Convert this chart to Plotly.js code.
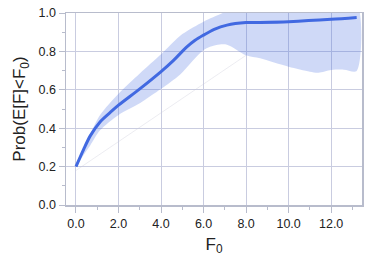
<!DOCTYPE html>
<html>
<head>
<meta charset="utf-8">
<script src="https://cdn.plot.ly/plotly-3.0.1.min.js"></script>
<style>html,body{margin:0;padding:0;background:#fff}#chart{width:382px;height:265px}</style>
</head>
<body>
<div id="chart"></div>
<script>
const meanX = [0, 0.36, 0.67, 1.14, 1.69, 2.0, 3.0, 4.0, 4.6, 5.2, 5.6, 6.0, 6.5, 7.1, 8.0, 8.66, 10.0, 12.0, 13.2];
const meanY = [0.20, 0.29, 0.36, 0.434, 0.49, 0.52, 0.605, 0.695, 0.755, 0.822, 0.858, 0.885, 0.915, 0.937, 0.95, 0.951, 0.955, 0.967, 0.977];
const upperX = [0, 0.36, 0.67, 1.14, 2.0, 3.0, 4.0, 5.0, 6.0, 6.9, 8.0, 10.0, 12.0, 13.2];
const upperY = [0.20, 0.30, 0.37, 0.47, 0.58, 0.685, 0.785, 0.89, 0.955, 1.0, 1.05, 1.05, 1.05, 1.05];
const lowerX = [0, 0.36, 0.67, 1.14, 2.0, 3.0, 4.0, 4.9, 6.0, 6.6, 7.1, 8.0, 8.66, 10.0, 11.0, 11.4, 12.0, 12.6, 13.2];
const lowerY = [0.20, 0.26, 0.31, 0.39, 0.469, 0.53, 0.605, 0.68, 0.807, 0.833, 0.835, 0.78, 0.764, 0.72, 0.694, 0.689, 0.703, 0.705, 0.698];
const refX = [0, 8.0];
const refY = [0.18, 0.78];

const bandX = upperX.concat(lowerX.slice().reverse());
const bandY = upperY.concat(lowerY.slice().reverse());

const FONT = 'Liberation Sans, Arial, Helvetica, sans-serif';

const traces = [
  {x: refX, y: refY, mode: 'lines', line: {color: 'rgba(200,200,215,0.5)', width: 0.7}, hoverinfo: 'skip'},
  {x: bandX, y: bandY, mode: 'lines', fill: 'toself', fillcolor: 'rgba(65,105,225,0.25)', line: {width: 0, shape: 'spline', smoothing: 0.8}, hoverinfo: 'skip'},
  {x: meanX, y: meanY, mode: 'lines', line: {color: '#4169e1', width: 3, shape: 'spline', smoothing: 0.8}}
];

const axisCommon = {
  showline: true, mirror: true, linecolor: '#b8bccc', linewidth: 1.5,
  gridcolor: '#c9cce0', gridwidth: 1, zeroline: false,
  ticks: 'outside', ticklen: 6, tickcolor: '#b8bccc', tickwidth: 1,
  tickfont: {family: FONT, size: 12.5, color: '#222'},
  tickformat: '.1f'
};

const layout = {
  width: 382, height: 265,
  margin: {l: 66, r: 20, t: 13, b: 60},
  paper_bgcolor: '#fff', plot_bgcolor: '#fff',
  showlegend: false,
  xaxis: Object.assign({}, axisCommon, {
    range: [-0.47, 13.45], dtick: 2, tick0: 0,
    minor: {dtick: 1, ticks: 'outside', ticklen: 3, tickcolor: '#b8bccc', showgrid: false},
    title: {text: 'F<sub>0</sub>', font: {family: FONT, size: 17, color: '#222'}, standoff: 8}
  }),
  yaxis: Object.assign({}, axisCommon, {
    range: [0, 1], dtick: 0.2, tick0: 0,
    minor: {dtick: 0.1, ticks: 'outside', ticklen: 3, tickcolor: '#b8bccc', showgrid: false},
    title: {text: 'Prob(E[F]<F<sub>0</sub>)', font: {family: FONT, size: 17, color: '#222'}, standoff: 8}
  })
};

Plotly.newPlot('chart', traces, layout, {displayModeBar: false, staticPlot: true});
</script>
</body>
</html>
